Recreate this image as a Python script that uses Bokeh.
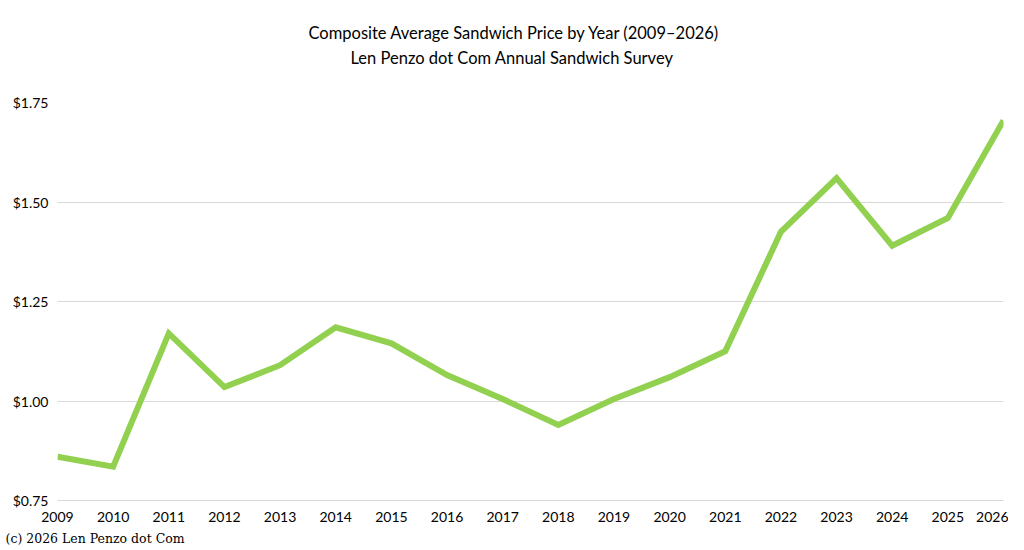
from bokeh.plotting import figure
from bokeh.models import Range1d, FixedTicker, NumeralTickFormatter, Title
from bokeh.embed import file_html
from bokeh.resources import INLINE

years = [2009, 2010, 2011, 2012, 2013, 2014, 2015, 2016, 2017,
         2018, 2019, 2020, 2021, 2022, 2023, 2024, 2025, 2026]
prices = [0.86, 0.835, 1.17, 1.035, 1.09, 1.185, 1.145, 1.065, 1.005,
          0.94, 1.005, 1.06, 1.125, 1.425, 1.56, 1.39, 1.46, 1.705]
price_ticks = [0.75, 1.00, 1.25, 1.50, 1.75]

TITLE = "Composite Average Sandwich Price by Year (2009\u20132026)"
SUBTITLE = "Len Penzo dot Com Annual Sandwich Survey"
CREDIT = "(c) 2026 Len Penzo dot Com"

FONT = "Lato"
GRID = "#d9d9d9"
GREEN = "#92d050"

p = figure(frame_width=946, frame_height=398,
           x_range=Range1d(2009, 2026), y_range=Range1d(0.75, 1.75),
           output_backend="svg", toolbar_location=None, tools="")
p.min_border_left = 57
p.min_border_right = 5
p.min_border_top = 102
p.min_border_bottom = 30
p.outline_line_color = None
p.background_fill_color = "white"
p.border_fill_color = "white"

p.line(years, prices, line_color=GREEN, line_width=6, line_join="miter")

p.xaxis.ticker = FixedTicker(ticks=years)
p.xaxis.major_tick_line_color = None
p.xaxis.minor_tick_line_color = None
p.xaxis.axis_line_color = GRID
p.xaxis.major_label_standoff = 5
p.xaxis.major_label_text_font = FONT
p.xaxis.major_label_text_font_size = "14px"
p.xaxis.major_label_text_color = "black"

p.yaxis.ticker = FixedTicker(ticks=price_ticks)
p.yaxis.formatter = NumeralTickFormatter(format="$0.00")
p.yaxis.major_tick_line_color = None
p.yaxis.minor_tick_line_color = None
p.yaxis.axis_line_color = None
p.yaxis.major_label_standoff = 3
p.yaxis.major_label_text_font = FONT
p.yaxis.major_label_text_font_size = "14px"
p.yaxis.major_label_text_color = "black"

p.xgrid.grid_line_color = None
p.ygrid.grid_line_color = GRID
p.ygrid.grid_line_width = 1

# spacer between the plot and the heading, then subtitle, then title
p.add_layout(Title(text=" ", text_font_size="1px", standoff=30), "above")
p.add_layout(Title(text=SUBTITLE, align="left", offset=293, standoff=3,
                   text_font=FONT, text_font_size="16.5px",
                   text_font_style="normal", text_color="black"), "above")
p.add_layout(Title(text=TITLE, align="left", offset=251, standoff=3,
                   text_font=FONT, text_font_size="16.5px",
                   text_font_style="normal", text_color="black"), "above")

p.add_layout(Title(text=CREDIT, align="left", offset=-52, standoff=8,
                   text_font="DejaVu Serif", text_font_size="12.5px",
                   text_font_style="normal", text_color="black"), "below")

open("out.html", "w").write(file_html(p, INLINE))
